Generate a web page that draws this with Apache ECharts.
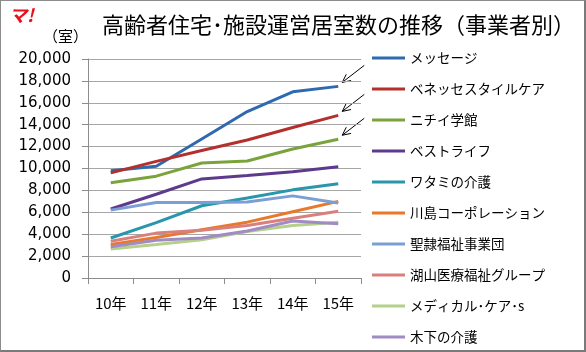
<!DOCTYPE html>
<html>
<head>
<meta charset="utf-8">
<script src="https://cdn.jsdelivr.net/npm/echarts@6/dist/echarts.min.js"></script>
<style>
  html, body { margin: 0; padding: 0; background: #fff; }
  #chart {
    width: 586px;
    height: 352px;
    box-sizing: border-box;
    border-left: 1px solid #8c8c8c;
    border-top: 1px solid #8c8c8c;
    border-right: 2px solid #7a7a7a;
    border-bottom: 2px solid #7a7a7a;
  }
</style>
</head>
<body>
<div id="chart"></div>
<script>
// 年度
const years = ["10年", "11年", "12年", "13年", "14年", "15年"];

// 事業者ごとの居室数
const message    = [9800, 10200, 12700, 15200, 17000, 17500];
const benesse    = [9600, 10650, 11650, 12600, 13750, 14850];
const nichii     = [8700, 9300, 10500, 10680, 11780, 12670];
const bestlife   = [6300, 7650, 9050, 9350, 9700, 10150];
const watami     = [3650, 5050, 6600, 7300, 8050, 8600];
const kawashima  = [3050, 3700, 4400, 5100, 6050, 7000];
const seirei     = [6200, 6900, 6900, 6950, 7500, 6850];
const koyama     = [3350, 4100, 4350, 4800, 5450, 6100];
const medicalCare = [2650, 3050, 3500, 4250, 4800, 5100];
const kinoshita  = [2850, 3450, 3650, 4300, 5200, 4950];

const seriesNames = [
  "メッセージ", "ベネッセスタイルケア", "ニチイ学館", "ベストライフ", "ワタミの介護",
  "川島コーポレーション", "聖隷福祉事業団", "湖山医療福祉グループ", "メディカル･ケア･s", "木下の介護"
];
const seriesData = [message, benesse, nichii, bestlife, watami, kawashima, seirei, koyama, medicalCare, kinoshita];
const seriesColors = [
  "#2f6aae", "#b3302c", "#7aa43b", "#5e3a8d", "#2896ab",
  "#e9782a", "#7c9ed6", "#d9807e", "#b4d08a", "#a08cc2"
];

const chart = echarts.init(document.getElementById("chart"));

function comma(v) {
  return String(v).replace(/\B(?=(\d{3})+(?!\d))/g, ",");
}

const option = {
  animation: false,
  textStyle: { fontFamily: "Noto Sans CJK JP" },
  title: {
    text: "高齢者住宅･施設運営居室数の推移（事業者別）",
    left: 101,
    top: 13,
    padding: 0,
    textStyle: { fontSize: 22, fontWeight: "normal", color: "#000" }
  },
  legend: {
    orient: "vertical",
    left: 371,
    top: 49,
    padding: 0,
    itemWidth: 33,
    itemHeight: 3,
    itemGap: 15,
    icon: "rect",
    textStyle: { fontSize: 13.5, color: "#000", lineHeight: 16 },
    data: seriesNames
  },
  grid: { left: 87, right: 223, top: 58, bottom: 72 },
  xAxis: {
    type: "category",
    data: years,
    boundaryGap: true,
    axisLine: { lineStyle: { color: "#8c8c8c" } },
    axisTick: { show: true, length: 6, lineStyle: { color: "#8c8c8c" } },
    axisLabel: { fontSize: 15, color: "#000", margin: 18 }
  },
  yAxis: {
    type: "value",
    min: 0,
    max: 20000,
    interval: 2000,
    axisLine: { show: true, lineStyle: { color: "#8c8c8c" } },
    axisTick: { show: true, length: 6, lineStyle: { color: "#8c8c8c" } },
    axisLabel: {
      fontSize: 15,
      fontFamily: "DejaVu Sans",
      color: "#000",
      margin: 17,
      formatter: comma
    },
    splitLine: { lineStyle: { color: "#a6a6a6", width: 1 } }
  },
  series: seriesNames.map((name, i) => ({
    name: name,
    type: "line",
    data: seriesData[i],
    showSymbol: false,
    symbol: "none",
    color: seriesColors[i],
    lineStyle: { width: 3, color: seriesColors[i] }
  })),
  graphic: [
    {
      type: "text",
      left: 8,
      top: 5,
      style: { text: "マ!", fill: "#e8101a", font: "italic bold 18px 'Noto Sans CJK JP'" }
    },
    {
      type: "text",
      left: 42,
      top: 28,
      style: { text: "（室）", fill: "#000", font: "15px 'Noto Sans CJK JP'" }
    }
  ]
};

chart.setOption(option);

// 矢印（上位3社の15年の点を指す）
const arrows = [];
[0, 1, 2].forEach(i => {
  const p = chart.convertToPixel({ seriesIndex: i }, [years.length - 1, seriesData[i][years.length - 1]]);
  const hx = p[0] + 4, hy = p[1] - 4;
  const tx = hx + 22, ty = hy - 17;
  const ang = Math.atan2(hy - ty, hx - tx);
  const len = 9, spread = 0.45;
  arrows.push({
    type: "line",
    shape: { x1: tx, y1: ty, x2: hx, y2: hy },
    style: { stroke: "#000", lineWidth: 1 }
  });
  arrows.push({
    type: "polyline",
    shape: {
      points: [
        [hx - len * Math.cos(ang - spread), hy - len * Math.sin(ang - spread)],
        [hx, hy],
        [hx - len * Math.cos(ang + spread), hy - len * Math.sin(ang + spread)]
      ]
    },
    style: { stroke: "#000", lineWidth: 1, fill: null }
  });
});
chart.setOption({ graphic: option.graphic.concat(arrows) });
</script>
</body>
</html>
